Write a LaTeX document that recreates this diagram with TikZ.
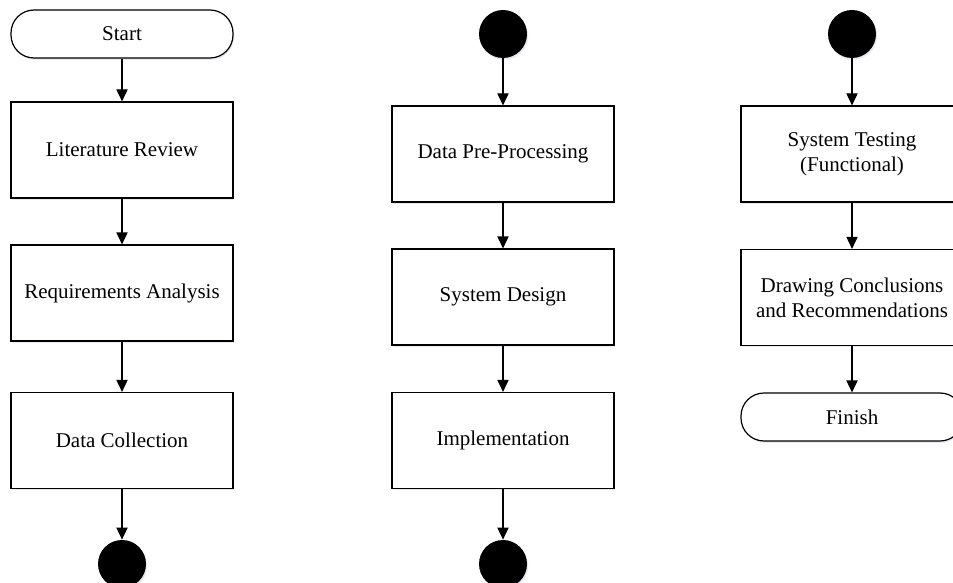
\documentclass[tikz,border=0pt]{standalone}
\usepackage{fontspec}
\setmainfont{Liberation Serif}
\usetikzlibrary{arrows.meta,shadows}

\tikzset{
	shade/.style={drop shadow={shadow xshift=0.6pt, shadow yshift=-0.9pt, fill=blue!25!gray!40, opacity=0.35}},
	proc/.style={draw, line width=0.6pt, fill=white, shade, minimum width=111pt, minimum height=48pt,
		align=center, inner sep=0pt, font=\fontsize{10.5}{12.5}\selectfont},
	term/.style={proc, rounded corners=11.5pt, minimum height=24pt},
	conn/.style={circle, fill=black, shade, minimum size=24pt, inner sep=0pt},
	flow/.style={line width=0.6pt, -{Triangle[length=6pt,width=5.6pt]}}
}

\begin{document}
\begin{tikzpicture}[x=0.5pt, y=-0.5pt]
	\useasboundingbox (0,0) rectangle (953,583);
	% first column
	\node[term] (start) at (122,34) {Start};
	\node[proc] (lit) at (122,150) {Literature Review};
	\node[proc] (req) at (122,293) {Requirements Analysis};
	\node[proc] (coll) at (122,440.5) {Data Collection};
	\node[conn] (outA) at (122,564) {};
	% second column
	\node[conn] (inB) at (503,34) {};
	\node[proc] (prep) at (503,154) {Data Pre-Processing};
	\node[proc] (design) at (503,297) {System Design};
	\node[proc] (impl) at (503,440.5) {Implementation};
	\node[conn] (outB) at (503,564) {};
	% third column
	\node[conn] (inC) at (852,34) {};
	\node[proc] (test) at (852,154) {System Testing\\(Functional)};
	\node[proc] (concl) at (852,297.5) {Drawing Conclusions\\and Recommendations};
	\node[term] (finish) at (852,417) {Finish};
	\foreach \a/\b in {start/lit, lit/req, req/coll, coll/outA,
		inB/prep, prep/design, design/impl, impl/outB,
		inC/test, test/concl, concl/finish}
	{
		\draw[flow] (\a) -- (\b);
	}
\end{tikzpicture}
\end{document}
